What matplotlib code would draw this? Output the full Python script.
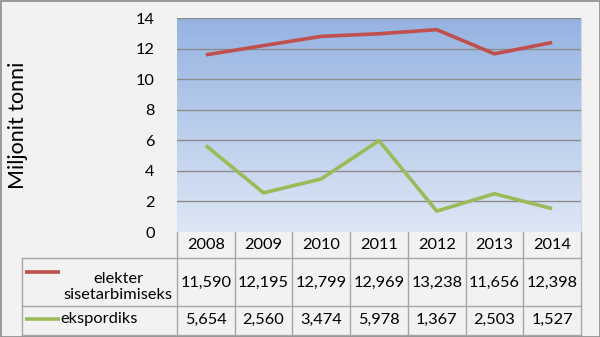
import matplotlib.pyplot as plt
import numpy as np
from matplotlib.patches import Rectangle

years = ["2008", "2009", "2010", "2011", "2012", "2013", "2014"]
elekter = [11.590, 12.195, 12.799, 12.969, 13.238, 11.656, 12.398]
eksport = [5.654, 2.560, 3.474, 5.978, 1.367, 2.503, 1.527]
series_names = ["elekter\nsisetarbimiseks", "ekspordiks"]
yticks = [0, 2, 4, 6, 8, 10, 12, 14]
ylabel = "Miljonit tonni"

red = "#c0504d"
green = "#9bbb59"
grid_col = "#8c8c8c"
tbl_col = "#a6a6a6"
bg = "#f2f2f2"
fs = 11.8
plt.rcParams["font.family"] = ["Lato", "DejaVu Sans"]

W, H = 600, 337
fig = plt.figure(figsize=(6, 3.37), dpi=100, facecolor=bg)

def px(x0, y0, x1, y1):
    # pixel box (top-left origin) -> figure fraction rect
    return [x0 / W, 1 - y1 / H, (x1 - x0) / W, (y1 - y0) / H]

ax = fig.add_axes(px(177, 18, 581, 232))
n = len(years)
x = np.arange(n) + 0.5

# gradient background
grad = np.linspace(0, 1, 256).reshape(-1, 1)
top = np.array([149, 179, 226]) / 255
bot = np.array([222, 231, 245]) / 255
img = bot + (top - bot) * grad
ax.imshow(img[:, None, :].repeat(2, axis=1), extent=[0, n, 0, 14], origin="lower",
          aspect="auto", zorder=0)

for t in yticks[1:]:
    ax.axhline(t, color=grid_col, lw=1.0, zorder=1)

ax.plot(x, elekter, color=red, lw=2.6, zorder=3, solid_capstyle="butt")
ax.plot(x, eksport, color=green, lw=2.6, zorder=3, solid_capstyle="butt")

ax.set_xlim(0, n)
ax.set_ylim(0, 14)
ax.set_yticks(yticks)
ax.set_yticklabels([str(t) for t in yticks], fontsize=fs)
ax.tick_params(axis="y", length=0, pad=16)
ax.set_xticks([])
for s in ax.spines.values():
    s.set_visible(False)
ax.spines["right"].set_visible(True)
ax.spines["right"].set_color("#d0d8e4")

fig.text(18 / W, 1 - 125 / H, ylabel, rotation=90, fontsize=15.5, ha="center", va="center")

# data table below the plot
tax = fig.add_axes(px(22, 232, 581, 336))
colw = (581 - 177) / n
lab_w = (177 - 22) / colw
tax.set_xlim(-lab_w, n)
tax.set_ylim(104, 0)
tax.axis("off")
tax.patch.set_alpha(0)

rows = [0, 26, 74, 103]
lk = dict(color=tbl_col, lw=1.0, clip_on=False)
tax.plot([-lab_w, n], [rows[1], rows[1]], **lk)
tax.plot([-lab_w, n], [rows[2], rows[2]], **lk)
tax.plot([-lab_w, n], [rows[3], rows[3]], **lk)
for i in range(n + 1):
    tax.plot([i, i], [rows[0], rows[3]], **lk)
tax.plot([-lab_w, -lab_w], [rows[1], rows[3]], **lk)

for i, yr in enumerate(years):
    tax.text(i + 0.5, 13, yr, ha="center", va="center", fontsize=fs)
    tax.text(i + 0.5, 51, f"{elekter[i]:.3f}".replace(".", ","), ha="center", va="center", fontsize=fs)
    tax.text(i + 0.5, 88, f"{eksport[i]:.3f}".replace(".", ","), ha="center", va="center", fontsize=fs)

# legend keys
k0, k1 = -lab_w + 3 / colw, -lab_w + 38 / colw
tax.plot([k0, k1], [40, 40], color=red, lw=2.6, solid_capstyle="butt")
tax.text(-lab_w + 96 / colw, 55, series_names[0], ha="center", va="center",
         fontsize=fs, linespacing=1.15)
tax.plot([k0, k1], [87, 87], color=green, lw=2.6, solid_capstyle="butt")
tax.text(k1, 87, series_names[1], ha="left", va="center", fontsize=fs)

fig.patches.append(Rectangle((0.5 / W, 0.5 / H), 1 - 1 / W, 1 - 1 / H,
                             transform=fig.transFigure, fill=False,
                             edgecolor="#8a8a8a", lw=1.2))

fig.savefig("out.png", dpi=100, facecolor=bg)
